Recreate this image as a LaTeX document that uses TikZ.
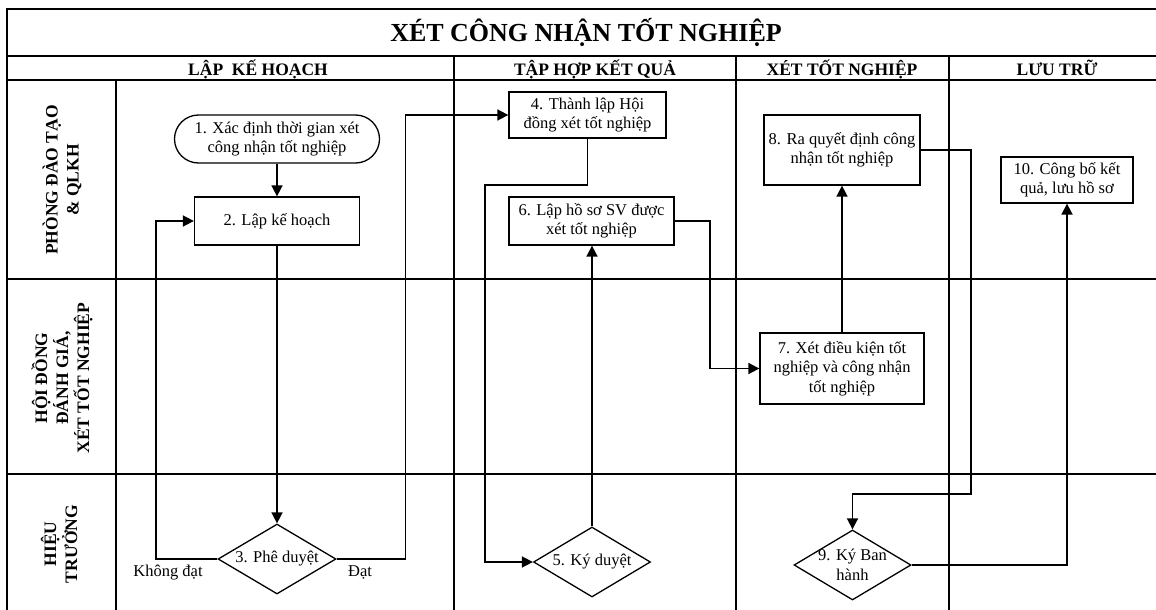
\documentclass[tikz,border=0pt]{standalone}
\usepackage{fontspec}
\setmainfont{Liberation Serif}
\usetikzlibrary{arrows.meta,shapes.geometric}
\newcommand\dgBody{\fontsize{16.5}{19.5}\selectfont}
\newcommand\dgHdr{\fontsize{17.5}{21}\selectfont\bfseries}
\newcommand\dgTitle{\fontsize{26}{30}\selectfont\bfseries}
\tikzset{
  frame/.style={line width=1.5pt, black},
  colline/.style={line width=1.1pt, black},
  box/.style={draw, line width=1.3pt, align=center, inner sep=2pt, font=\dgBody},
  dia/.style={draw, shape=diamond, line width=1.3pt, inner sep=0pt},
  dlabel/.style={font=\dgBody, align=center},
  arr/.style={line width=1.7pt, -{Triangle[length=11pt,width=11pt]}},
  hdr/.style={anchor=base, font=\dgHdr},
  lane/.style={rotate=90, align=center, font=\dgHdr},
  elabel/.style={anchor=base, font=\dgBody}
}
\begin{document}
\begin{tikzpicture}[x=1pt,y=-1pt]
\fill[white] (0,0) rectangle (1156,610);
\useasboundingbox (0,0) rectangle (1156,610);
% frame
\draw[frame] (1156,9) -- (7,9) -- (7,610);
\draw[frame] (7,56) -- (1156,56);
\draw[frame] (7,80) -- (1156,80);
\draw[frame] (7,279) -- (1156,279);
\draw[frame] (7,474) -- (1156,474);
\draw[colline] (116,80) -- (116,610);
\draw[colline] (454,56) -- (454,610);
\draw[colline] (736,56) -- (736,610);
\draw[colline] (949,56) -- (949,610);
% title and headers
\node[anchor=base, font=\dgTitle] (title) at (586,42) {XÉT CÔNG NHẬN TỐT NGHIỆP};
\node[hdr] (h1) at (258,75) {LẬP\ \ KẾ HOẠCH};
\node[hdr] (h2) at (595,75) {TẬP HỢP KẾT QUẢ};
\node[hdr] (h3) at (842,75) {XÉT TỐT NGHIỆP};
\node[hdr] (h4) at (1057,75) {LƯU TRỮ};
% lane labels
\node[lane] (l1) at (62,180) {PHÒNG ĐÀO TẠO\\\& QLKH};
\node[lane] (l2) at (62,378) {HỘI ĐỒNG\\ĐÁNH GIÁ,\\XÉT TỐT NGHIỆP};
\node[lane] (l3) at (59,544) {HIỆU\\TRƯỞNG};
% process nodes
\node[box, rounded corners=24pt, minimum width=205pt, minimum height=48pt] (n1) at (277,139) {1. Xác định thời gian xét\\công nhận tốt nghiệp};
\node[box, minimum width=165pt, minimum height=48pt] (n2) at (277,221) {2. Lập kế hoạch};
\node[dia, minimum width=118pt, minimum height=70pt, label={[dlabel]center:3. Phê duyệt}] (d3) at (277,559) {};
\node[box, minimum width=157pt, minimum height=46pt] (n4) at (587.5,115) {4. Thành lập Hội\\đồng xét tốt nghiệp};
\node[dia, minimum width=117pt, minimum height=70pt, label={[dlabel]center:5. Ký duyệt}] (d5) at (592,562) {};
\node[box, minimum width=165pt, minimum height=48pt] (n6) at (591.5,221) {6. Lập hồ sơ SV được\\xét tốt nghiệp};
\node[box, minimum width=164pt, minimum height=71pt] (n7) at (842,368.5) {7. Xét điều kiện tốt\\nghiệp và công nhận\\tốt nghiệp};
\node[box, minimum width=156pt, minimum height=70pt] (n8) at (842,150) {8. Ra quyết định công\\nhận tốt nghiệp};
\node[dia, minimum width=117pt, minimum height=70pt, label={[dlabel]center:9. Ký Ban\\hành}] (d9) at (852.5,565) {};
\node[box, minimum width=132pt, minimum height=46pt] (n10) at (1067,180) {10. Công bố kết\\quả, lưu hồ sơ};
% edge labels
\node[elabel] (lk) at (168,576) {Không đạt};
\node[elabel] (ld) at (360,576) {Đạt};
% connectors
\draw[arr] (n1) -- (n2);
\draw[arr] (n2) -- (d3);
\draw[arr] (d3.west) -| ([xshift=-38pt]n2.west) -- (n2.west);
\draw[arr] (d3.east) -| ([xshift=-103pt]n4.west) -- (n4.west);
\draw[arr] (n4.south) -- ++(0,46) -| ([xshift=-48pt]d5.west) -- (d5.west);
\draw[arr] (d5.north) -- (d5.north |- n6.south);
\draw[arr] (n6.east) -- ++(35,0) |- (n7.west);
\draw[arr] (n7) -- (n8);
\draw[arr] (n8.east) -- ++(50,0) -- ++(0,344) -| (d9.north);
\draw[arr] (d9.east) -| (n10.south);
\end{tikzpicture}
\end{document}
